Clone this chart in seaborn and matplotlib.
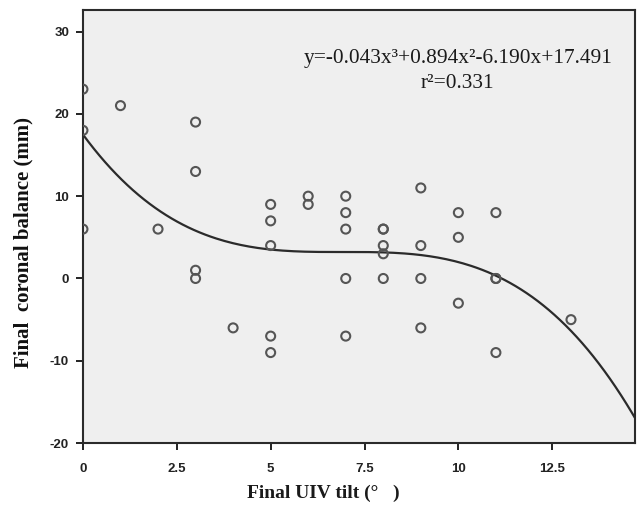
import matplotlib
matplotlib.use("Agg")
import matplotlib.pyplot as plt
import seaborn as sns
import numpy as np
import pandas as pd

# scatter points
uiv_tilt = [0, 0, 0, 1, 2, 3, 3, 3, 3, 4,
            5, 5, 5, 5, 5, 6, 6, 7, 7, 7, 7, 7,
            8, 8, 8, 8, 8, 9, 9, 9, 9, 10, 10, 10,
            11, 11, 11, 11, 13]
coronal_balance = [23, 18, 6, 21, 6, 19, 13, 1, 0, -6,
                   9, 7, 4, -7, -9, 10, 9, 10, 8, 6, 0, -7,
                   6, 6, 4, 3, 0, 11, 4, 0, -6, 8, 5, -3,
                   8, 0, 0, -9, -5]

# cubic fit as printed on the chart (highest power first)
fit_coef = [-0.043, 0.894, -6.190, 17.491]
fit_label = "y=-0.043x³+0.894x²-6.190x+17.491"
r2_label = "r²=0.331"

x_ticks = [0, 2.5, 5, 7.5, 10, 12.5]
x_tick_labels = ["0", "2.5", "5", "7.5", "10", "12.5"]
y_ticks = [-20, -10, 0, 10, 20, 30]

df = pd.DataFrame({"x": uiv_tilt, "y": coronal_balance})
xs = np.linspace(0, 14.7, 200)
curve = pd.DataFrame({"x": xs, "y": np.polyval(fit_coef, xs)})

sns.set_style("ticks")
plt.rcParams["axes.unicode_minus"] = False
fig = plt.figure(figsize=(6.38, 5.07), dpi=100)
ax = fig.add_axes([0.130, 0.126, 0.865, 0.854])
ax.set_facecolor("#efefef")

sns.lineplot(data=curve, x="x", y="y", ax=ax, color="#2b2b2b", linewidth=1.6)
sns.scatterplot(data=df, x="x", y="y", ax=ax, marker="o", s=42,
                facecolors="none", edgecolor="#555555", linewidth=1.5,
                clip_on=True, zorder=3)

ax.set_xlim(0, 14.7)
ax.set_ylim(-20, 32.6)
ax.set_xticks(x_ticks)
ax.set_xticklabels(x_tick_labels)
ax.set_yticks(y_ticks)
for lab in ax.get_xticklabels() + ax.get_yticklabels():
    lab.set_fontfamily("Liberation Sans")
    lab.set_fontweight("bold")
    lab.set_fontsize(9.5)
    lab.set_color("#222222")
ax.tick_params(direction="out", length=5, width=1.4, color="#222222")
ax.tick_params(axis="x", pad=9)
ax.tick_params(axis="y", pad=5)

for side in ["left", "right", "top", "bottom"]:
    ax.spines[side].set_visible(True)
    ax.spines[side].set_linewidth(1.5)
    ax.spines[side].set_color("#2b2b2b")

ax.set_xlabel("Final UIV tilt (°   )", fontfamily="Liberation Serif",
              fontsize=14, fontweight="bold", color="#1a1a1a")
ax.set_ylabel("Final  coronal balance (mm)", fontfamily="Liberation Serif",
              fontsize=15, fontweight="bold", color="#111111")
ax.xaxis.set_label_coords(0.435, -0.097)
ax.yaxis.set_label_coords(-0.089, 0.464)

ax.text(0.679, 0.889, fit_label, transform=ax.transAxes, ha="center", va="center",
        fontfamily="Liberation Serif", fontsize=15.4, color="#1a1a1a")
ax.text(0.679, 0.831, r2_label, transform=ax.transAxes, ha="center", va="center",
        fontfamily="Liberation Serif", fontsize=15.4, color="#1a1a1a")

fig.savefig("out.png", dpi=100)
